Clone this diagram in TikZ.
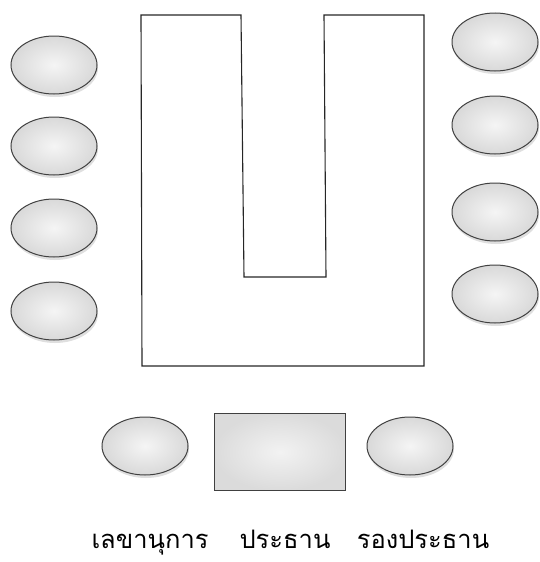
\documentclass[tikz,border=0pt]{standalone}
\usepackage{fontspec}
\newfontfamily\thaifont[Script=Thai]{Loma}
\usetikzlibrary{shapes.geometric,shadows}
\begin{document}
\begin{tikzpicture}[
                x=1pt, y=-1pt,
                seat/.style={ellipse, draw=black!75, line width=1pt,
                  minimum width=86pt, minimum height=58pt,
                  inner color=gray!8, outer color=gray!30,
                  drop shadow={shadow xshift=1pt, shadow yshift=-3pt, opacity=0.25}},
                desk/.style={rectangle, draw=black!75, line width=1pt,
                  minimum width=131pt, minimum height=77pt,
                  inner color=gray!10, outer color=gray!28},
                label/.style={font=\thaifont\fontsize{25.5}{30}\selectfont, anchor=base, inner sep=0pt}
                ]
                \useasboundingbox (0,0) rectangle (539,562);
                % U-shaped meeting table
                \draw[line width=1.1pt, black!85]
                  (141,15) -- (241,15) -- (244,277) -- (326,277) -- (324,15)
                  -- (424,15) -- (424,366) -- (142,366) -- cycle;
                % seats left and right
                \foreach \y [count=\i] in {65,146,228,311}
                  \node[seat] (seatL\i) at (54,\y) {};
                \foreach \y [count=\i] in {42,125,212,294}
                  \node[seat] (seatR\i) at (495,\y) {};
                % secretary, chairman, vice chairman
                \node[seat] (secretary) at (145,446) {};
                \node[desk] (chair) at (280,452) {};
                \node[seat] (vicechair) at (410,446) {};
                \node[label] (secretarylbl) at (150,548) {เลขานุการ};
                \node[label] (chairlbl) at (285,548) {ประธาน};
                \node[label] (vicechairlbl) at (423,548) {รองประธาน};
\end{tikzpicture}
\end{document}
